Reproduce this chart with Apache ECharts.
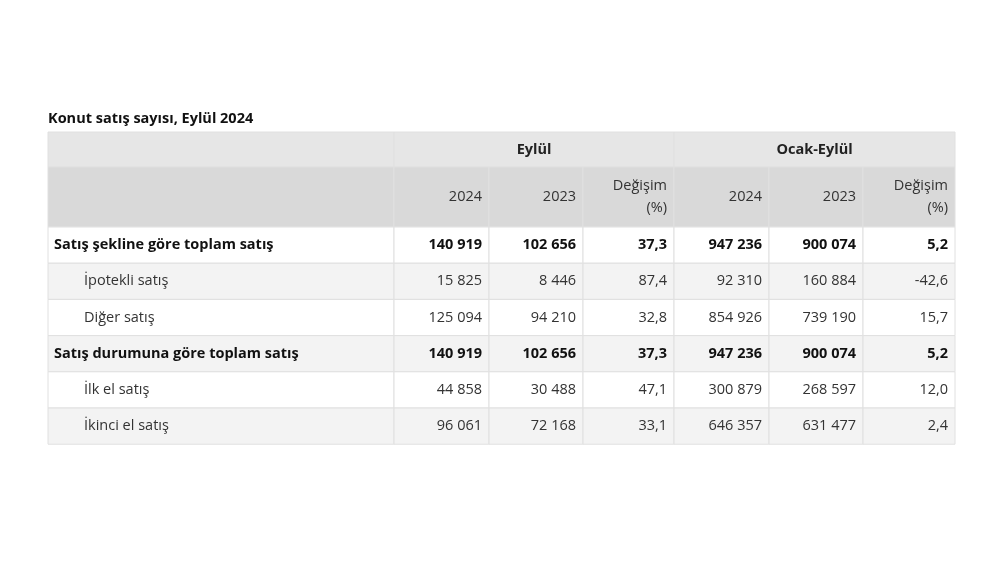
<!DOCTYPE html>
<html><head><meta charset="utf-8">
<script src="https://cdn.jsdelivr.net/npm/echarts@6/dist/echarts.min.js"></script>
<style>html,body{margin:0;padding:0;background:#fff}#c{width:1000px;height:570px}</style>
</head><body><div id="c"></div>
<script>
const title = 'Konut satış sayısı, Eylül 2024';
const groupHeaders = ['Eylül', 'Ocak-Eylül'];
const subHeaders = ['2024', '2023', 'Değişim\n(%)', '2024', '2023', 'Değişim\n(%)'];
const rowLabels = ['Satış şekline göre toplam satış', 'İpotekli satış', 'Diğer satış', 'Satış durumuna göre toplam satış', 'İlk el satış', 'İkinci el satış'];
const rowBold = [true, false, false, true, false, false];
const row0 = ['140 919', '102 656', '37,3', '947 236', '900 074', '5,2'];
const row1 = ['15 825', '8 446', '87,4', '92 310', '160 884', '-42,6'];
const row2 = ['125 094', '94 210', '32,8', '854 926', '739 190', '15,7'];
const row3 = ['140 919', '102 656', '37,3', '947 236', '900 074', '5,2'];
const row4 = ['44 858', '30 488', '47,1', '300 879', '268 597', '12,0'];
const row5 = ['96 061', '72 168', '33,1', '646 357', '631 477', '2,4'];
const rows = [row0, row1, row2, row3, row4, row5];

const colX = [48, 394, 489, 583, 674, 769, 863, 955];
const hY = [132, 167, 227];
const rowH = 36.2;
const font = '"Open Sans", "Noto Sans", sans-serif';
const fs = '14.5px ';
const line = '#e0e0e0';
const els = [];
function rect(x, y, w, h, fill) {
  els.push({type: 'rect', shape: {x, y, width: w, height: h}, style: {fill, stroke: line, lineWidth: 1}});
}
function text(x, y, s, opt) {
  els.push({type: 'text', x, y, style: Object.assign({text: s, font: fs + font, fill: '#222', textVerticalAlign: 'middle'}, opt)});
}
els.push({type: 'text', x: 48, y: 119, style: {text: title, font: 'bold ' + fs + font, fill: '#111', textVerticalAlign: 'middle'}});
rect(colX[0], hY[0], colX[1] - colX[0], hY[1] - hY[0], '#e6e6e6');
for (let g = 0; g < 2; g++) {
  const x0 = colX[1 + g * 3], x1 = colX[4 + g * 3];
  rect(x0, hY[0], x1 - x0, hY[1] - hY[0], '#e6e6e6');
  text((x0 + x1) / 2, (hY[0] + hY[1]) / 2, groupHeaders[g], {font: 'bold ' + fs + font, textAlign: 'center'});
}
rect(colX[0], hY[1], colX[1] - colX[0], hY[2] - hY[1], '#d9d9d9');
subHeaders.forEach((s, i) => {
  rect(colX[i + 1], hY[1], colX[i + 2] - colX[i + 1], hY[2] - hY[1], '#d9d9d9');
  text(colX[i + 2] - 7, (hY[1] + hY[2]) / 2, s, {textAlign: 'right', lineHeight: 22, fill: '#333'});
});
rows.forEach((r, ri) => {
  const y = hY[2] + ri * rowH;
  const fill = ri % 2 ? '#f3f3f3' : '#ffffff';
  const b = rowBold[ri];
  const f = (b ? 'bold ' : '') + fs + font;
  rect(colX[0], y, colX[1] - colX[0], rowH, fill);
  text(colX[0] + (b ? 6 : 36), y + rowH / 2, rowLabels[ri], {font: f, fill: b ? '#111' : '#333'});
  r.forEach((v, ci) => {
    rect(colX[ci + 1], y, colX[ci + 2] - colX[ci + 1], rowH, fill);
    text(colX[ci + 2] - 7, y + rowH / 2, v, {font: f, textAlign: 'right', fill: b ? '#111' : '#333'});
  });
});
const chart = echarts.init(document.getElementById('c'));
chart.setOption({animation: false, graphic: {elements: els}});
</script></body></html>
